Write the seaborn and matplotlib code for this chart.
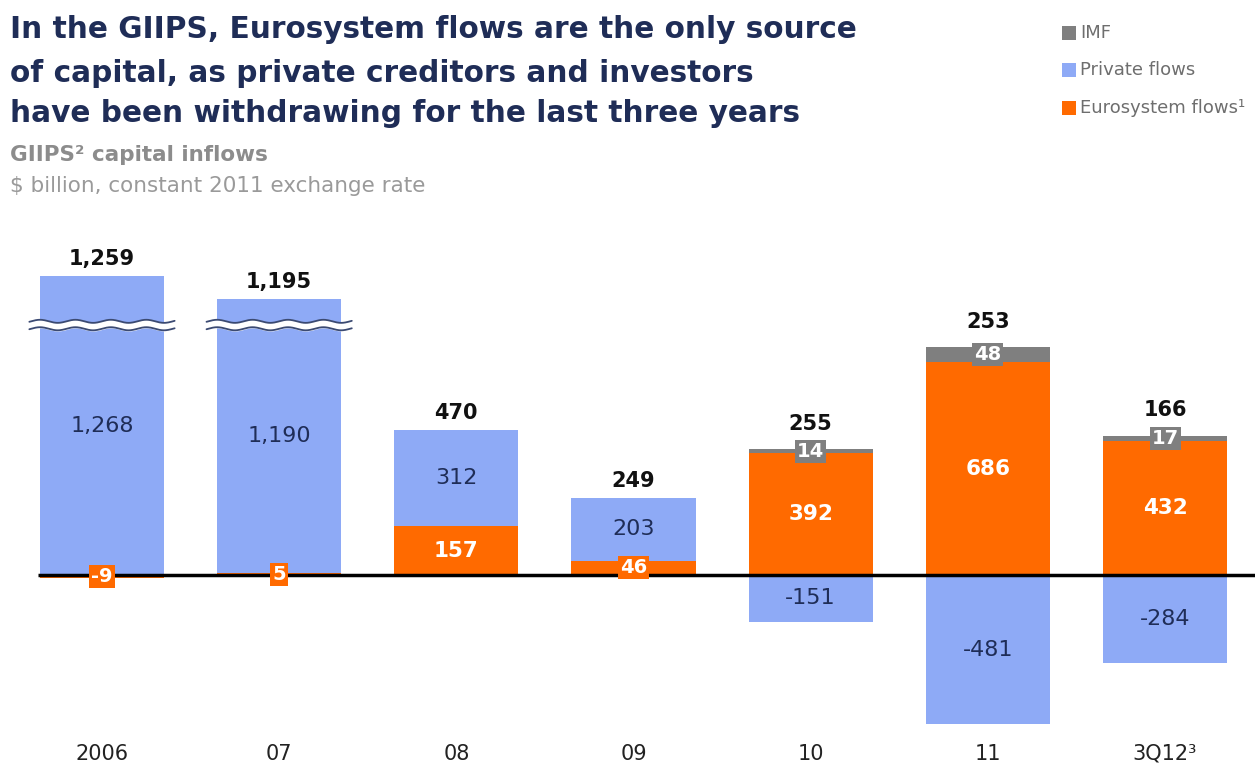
import numpy as np
import pandas as pd
import seaborn as sns
import matplotlib.pyplot as plt
from matplotlib.patches import Rectangle

years = ["2006", "07", "08", "09", "10", "11", "3Q12³"]
private = [1268, 1190, 312, 203, -151, -481, -284]
euro = [-9, 5, 157, 46, 392, 686, 432]
imf = [0, 0, 0, 0, 14, 48, 17]
totals = ["1,259", "1,195", "470", "249", "255", "253", "166"]
private_labels = ["1,268", "1,190", "312", "203", "-151", "-481", "-284"]

cut = 305        # hidden part of the two tall bars (axis break)
break_at = 806   # where the break mark sits

BLUE = "#8eaaf6"
ORANGE = "#ff6a00"
GRAY = "#7f7f7f"
NAVY = "#1f2d57"

sns.set_style("white")
plt.rcParams["font.family"] = ["DejaVu Sans"]

p = np.array(private, dtype=float)
e = np.array(euro, dtype=float)
m = np.array(imf, dtype=float)
p_shown = np.where(p > 1000, p - cut, p)
p_bottom = np.where((p > 0) & (e > 0), e, 0)
pos_top = np.where(p > 0, p_bottom + p_shown, np.maximum(e, 0))

df = pd.DataFrame({"year": years, "private": p_shown, "euro": e, "imf": m})

fig = plt.figure(figsize=(12.55, 7.69), dpi=100)
ax = fig.add_axes([0, 39 / 769, 1, 480 / 769])

sns.barplot(data=df, x="year", y="euro", color=ORANGE, saturation=1,
            width=0.7, ax=ax, linewidth=0)
sns.barplot(data=df, x="year", y="private", bottom=p_bottom, color=BLUE,
            saturation=1, width=0.7, ax=ax, linewidth=0)
sns.barplot(data=df, x="year", y="imf", bottom=pos_top, color=GRAY,
            saturation=1, width=0.7, ax=ax, linewidth=0)

ax.set_xlim(-102 / 177.2, 6 + 90 / 177.2)
ax.set_ylim(-500, 1048)
ax.hlines(0, -0.36, 6.6, color="black", lw=2.5, zorder=4, clip_on=False)

# axis break marks on the tall bars
for i in range(len(years)):
    if p[i] > 1000:
        xs = np.linspace(i - 0.41, i + 0.41, 300)
        wave = 5 * np.sin(2 * np.pi * (xs - i) / 0.2)
        ax.fill_between(xs, break_at - 12 + wave, break_at + 12 + wave,
                        color="white", zorder=5)
        ax.plot(xs, break_at - 12 + wave, color="#3b4a72", lw=1.3, zorder=6)
        ax.plot(xs, break_at + 12 + wave, color="#3b4a72", lw=1.3, zorder=6)

for i in range(len(years)):
    # private
    ax.text(i, p_bottom[i] + p_shown[i] / 2, private_labels[i], ha="center",
            va="center", fontsize=16, color=NAVY, zorder=7)
    # eurosystem
    if abs(e[i]) < 60:
        ax.text(i, e[i] / 2, f"{euro[i]}", ha="center", va="center",
                fontsize=14, color="white", fontweight="bold", zorder=7,
                bbox=dict(boxstyle="square,pad=0.1", fc=ORANGE, ec="none"))
    else:
        ax.text(i, e[i] / 2, f"{euro[i]}", ha="center", va="center",
                fontsize=15.5, color="white", fontweight="bold", zorder=7)
    # imf
    if m[i] > 0:
        ax.text(i, pos_top[i] + m[i] / 2, f"{imf[i]}", ha="center",
                va="center", fontsize=14, color="white", fontweight="bold",
                zorder=7,
                bbox=dict(boxstyle="square,pad=0.1", fc=GRAY, ec="none"))
        top = pos_top[i] + m[i]
        off = 11
    else:
        top = pos_top[i]
        off = 5
    ax.annotate(totals[i], (i, top), xytext=(0, off), textcoords="offset points",
                ha="center", va="bottom", fontsize=15, fontweight="bold",
                color="#111111")

ax.set_xticks(range(len(years)))
ax.set_xticklabels(years, fontsize=15, color="#222222")
ax.tick_params(axis="x", length=0, pad=10)
ax.set_yticks([])
ax.set_xlabel("")
ax.set_ylabel("")
for s in ax.spines.values():
    s.set_visible(False)

# titles
title = ["In the GIIPS, Eurosystem flows are the only source",
         "of capital, as private creditors and investors",
         "have been withdrawing for the last three years"]
for y, line in zip([30, 73, 113], title):
    fig.text(10 / 1255, 1 - y / 769, line, fontsize=21.3, fontweight="bold",
             color=NAVY, va="center", ha="left")
fig.text(10 / 1255, 1 - 155 / 769, "GIIPS² capital inflows", fontsize=15.5,
         fontweight="bold", color="#8c8c8c", va="center")
fig.text(10 / 1255, 1 - 186 / 769, "$ billion, constant 2011 exchange rate",
         fontsize=15.5, color="#9a9a9a", va="center")

# legend
legend = [("IMF", GRAY, 33), ("Private flows", BLUE, 70),
          ("Eurosystem flows¹", ORANGE, 108)]
for name, col, y in legend:
    fig.add_artist(Rectangle((1062 / 1255, 1 - (y + 7) / 769), 14 / 1255,
                             14 / 769, transform=fig.transFigure, fc=col,
                             ec="none"))
    fig.text(1080 / 1255, 1 - y / 769, name, fontsize=13, color="#6e6e6e",
             va="center", ha="left")

fig.savefig("out.png", dpi=100)
